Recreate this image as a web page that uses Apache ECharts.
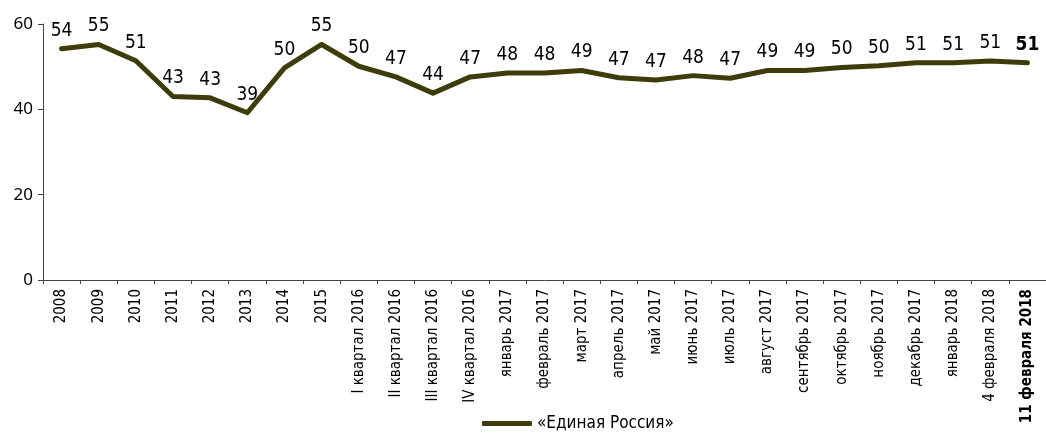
<!DOCTYPE html>
<html>
<head>
<meta charset="utf-8">
<script src="https://cdn.jsdelivr.net/npm/echarts@6/dist/echarts.min.js"></script>
<style>
  html, body { margin: 0; padding: 0; background: #fff; }
  #chart { width: 1046px; height: 435px; }
</style>
</head>
<body>
<div id="chart"></div>
<script>
// подписи по оси X
var categories = ['2008', '2009', '2010', '2011', '2012', '2013', '2014', '2015',
    'I квартал 2016', 'II квартал 2016', 'III квартал 2016', 'IV квартал 2016',
    'январь 2017', 'февраль 2017', 'март 2017', 'апрель 2017', 'май 2017', 'июнь 2017',
    'июль 2017', 'август 2017', 'сентябрь 2017', 'октябрь 2017', 'ноябрь 2017',
    'декабрь 2017', 'январь 2018', '4 февраля 2018', '11 февраля 2018'];
// положение линии (оценка по рисунку)
var values = [54.2, 55.2, 51.4, 43.0, 42.7, 39.2, 49.7, 55.2,
    50.1, 47.6, 43.8, 47.6,
    48.5, 48.5, 49.1, 47.4, 46.9, 47.9, 47.3, 49.1, 49.1, 49.8, 50.2, 50.9,
    50.9, 51.3, 50.9];
// подписи значений
var labels = [54, 55, 51, 43, 43, 39, 50, 55,
    50, 47, 44, 47,
    48, 48, 49, 47, 47, 48, 47, 49, 49, 50, 50, 51,
    51, 51, 51];
var yTicks = [0, 20, 40, 60];

var lineColor = '#3d3c0a';
var chart = echarts.init(document.getElementById('chart'));
var lastIdx = categories.length - 1;
var narrow = 'Liberation Sans Narrow, DejaVu Sans Condensed, sans-serif';

var option = {
    backgroundColor: '#fff',
    animation: false,
    grid: {
        left: 43,
        top: 24,
        width: 1008,
        bottom: 155
    },
    legend: {
        top: 415,
        left: 482,
        padding: 0,
        itemWidth: 50,
        itemHeight: 5,
        itemGap: 8,
        icon: 'roundRect',
        textStyle: {
            fontFamily: narrow,
            fontSize: 17,
            color: '#000'
        },
        data: ['«Единая Россия»']
    },
    xAxis: {
        type: 'category',
        data: categories,
        boundaryGap: true,
        axisLine: { show: true, lineStyle: { color: '#444', width: 1 } },
        axisTick: { show: true, interval: 0, length: 4, lineStyle: { color: '#444' } },
        axisLabel: {
            interval: 0,
            rotate: 90,
            margin: 9,
            fontFamily: narrow,
            fontSize: 15,
            color: '#000',
            formatter: function (v, i) {
                return i === lastIdx ? '{b|' + v + '}' : v;
            },
            rich: {
                b: { fontFamily: narrow, fontSize: 15, fontWeight: 'bold', color: '#000' }
            }
        }
    },
    yAxis: {
        type: 'value',
        min: yTicks[0],
        max: yTicks[yTicks.length - 1],
        interval: 20,
        splitLine: { show: false },
        axisLine: { show: true, lineStyle: { color: '#444', width: 1 } },
        axisTick: { show: true, length: 5, lineStyle: { color: '#444' } },
        axisLabel: {
            margin: 10,
            fontFamily: 'Noto Sans',
            fontSize: 17,
            color: '#000'
        }
    },
    series: [{
        name: '«Единая Россия»',
        type: 'line',
        data: values,
        symbol: 'circle',
        symbolSize: 1,
        showSymbol: true,
        smooth: false,
        lineStyle: { color: lineColor, width: 5, cap: 'round', join: 'round' },
        itemStyle: { color: lineColor },
        label: {
            show: true,
            position: 'top',
            distance: 8,
            fontFamily: narrow,
            fontSize: 19,
            color: '#000',
            formatter: function (p) {
                var t = String(labels[p.dataIndex]);
                return p.dataIndex === lastIdx ? '{b|' + t + '}' : t;
            },
            rich: {
                b: { fontFamily: narrow, fontSize: 19, fontWeight: 'bold', color: '#000' }
            }
        }
    }]
};

chart.setOption(option);
window.onresize = chart.resize;
</script>
</body>
</html>
